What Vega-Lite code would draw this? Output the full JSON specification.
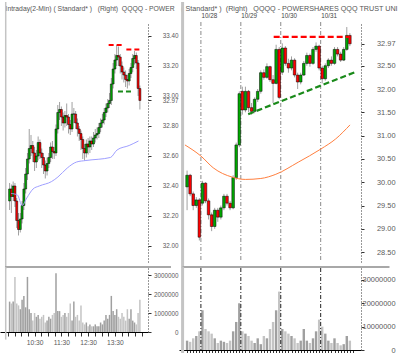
{
"$schema": "https://vega.github.io/schema/vega-lite/v6.json",
"padding": 0,
"background": "white",
"config": {
 "view": {"stroke": null},
 "font": "Liberation Sans, Arial, sans-serif",
 "axis": {"labelFont": "Liberation Sans, Arial, sans-serif", "titleFont": "Liberation Sans, Arial, sans-serif", "labelColor": "#5a5a5a", "grid": false, "domainColor": "#333333", "tickColor": "#333333", "labelOverlap": false, "titleFontWeight": "normal", "titleColor": "#555555"}
},
"datasets": {
 "left": [
{"t":4,"o":32.30,"h":32.42,"l":32.24,"c":32.38,"v":1600000},
{"t":8,"o":32.38,"h":32.41,"l":32.22,"c":32.33,"v":1500000},
{"t":12,"o":32.33,"h":32.43,"l":32.30,"c":32.40,"v":1600000},
{"t":16,"o":32.40,"h":32.42,"l":32.26,"c":32.30,"v":2900000},
{"t":20,"o":32.30,"h":32.32,"l":32.12,"c":32.17,"v":1500000},
{"t":24,"o":32.17,"h":32.22,"l":32.07,"c":32.11,"v":1400000},
{"t":28,"o":32.11,"h":32.22,"l":32.09,"c":32.18,"v":1200000},
{"t":32,"o":32.18,"h":32.30,"l":32.15,"c":32.27,"v":1700000},
{"t":36,"o":32.27,"h":32.42,"l":32.24,"c":32.38,"v":1900000},
{"t":40,"o":32.38,"h":32.52,"l":32.35,"c":32.48,"v":1300000},
{"t":44,"o":32.48,"h":32.62,"l":32.44,"c":32.58,"v":2900000},
{"t":48,"o":32.58,"h":32.78,"l":32.55,"c":32.65,"v":1200000},
{"t":52,"o":32.65,"h":32.74,"l":32.60,"c":32.67,"v":1000000},
{"t":56,"o":32.67,"h":32.70,"l":32.56,"c":32.62,"v":600000},
{"t":60,"o":32.62,"h":32.66,"l":32.50,"c":32.56,"v":1000000},
{"t":64,"o":32.56,"h":32.64,"l":32.52,"c":32.60,"v":800000},
{"t":68,"o":32.60,"h":32.73,"l":32.57,"c":32.69,"v":900000},
{"t":72,"o":32.69,"h":32.71,"l":32.58,"c":32.62,"v":700000},
{"t":76,"o":32.62,"h":32.65,"l":32.52,"c":32.59,"v":800000},
{"t":80,"o":32.59,"h":32.62,"l":32.48,"c":32.54,"v":900000},
{"t":84,"o":32.54,"h":32.57,"l":32.45,"c":32.50,"v":500000},
{"t":88,"o":32.50,"h":32.59,"l":32.47,"c":32.55,"v":600000},
{"t":92,"o":32.55,"h":32.62,"l":32.52,"c":32.59,"v":800000},
{"t":96,"o":32.59,"h":32.69,"l":32.56,"c":32.66,"v":700000},
{"t":100,"o":32.66,"h":32.70,"l":32.58,"c":32.63,"v":900000},
{"t":104,"o":32.63,"h":32.66,"l":32.58,"c":32.62,"v":1000000},
{"t":108,"o":32.62,"h":32.81,"l":32.60,"c":32.78,"v":3100000},
{"t":112,"o":32.78,"h":32.94,"l":32.75,"c":32.89,"v":1100000},
{"t":116,"o":32.89,"h":32.96,"l":32.84,"c":32.91,"v":1100000},
{"t":120,"o":32.91,"h":32.93,"l":32.80,"c":32.86,"v":800000},
{"t":124,"o":32.86,"h":32.89,"l":32.77,"c":32.82,"v":900000},
{"t":128,"o":32.82,"h":32.90,"l":32.79,"c":32.87,"v":1000000},
{"t":132,"o":32.87,"h":32.95,"l":32.80,"c":32.86,"v":800000},
{"t":136,"o":32.86,"h":32.88,"l":32.75,"c":32.81,"v":1000000},
{"t":140,"o":32.81,"h":32.84,"l":32.74,"c":32.78,"v":1500000},
{"t":144,"o":32.78,"h":32.96,"l":32.76,"c":32.88,"v":600000},
{"t":148,"o":32.88,"h":32.92,"l":32.82,"c":32.88,"v":1600000},
{"t":152,"o":32.88,"h":32.90,"l":32.78,"c":32.82,"v":800000},
{"t":156,"o":32.82,"h":32.85,"l":32.73,"c":32.78,"v":900000},
{"t":160,"o":32.78,"h":32.80,"l":32.70,"c":32.75,"v":600000},
{"t":164,"o":32.75,"h":32.77,"l":32.64,"c":32.71,"v":1400000},
{"t":168,"o":32.71,"h":32.73,"l":32.58,"c":32.65,"v":500000},
{"t":172,"o":32.65,"h":32.68,"l":32.57,"c":32.62,"v":400000},
{"t":176,"o":32.62,"h":32.71,"l":32.59,"c":32.68,"v":500000},
{"t":180,"o":32.68,"h":32.72,"l":32.61,"c":32.66,"v":300000},
{"t":184,"o":32.66,"h":32.73,"l":32.62,"c":32.70,"v":400000},
{"t":188,"o":32.70,"h":32.73,"l":32.64,"c":32.68,"v":300000},
{"t":192,"o":32.68,"h":32.76,"l":32.66,"c":32.72,"v":300000},
{"t":196,"o":32.72,"h":32.78,"l":32.69,"c":32.74,"v":400000},
{"t":200,"o":32.74,"h":32.79,"l":32.71,"c":32.75,"v":300000},
{"t":204,"o":32.75,"h":32.82,"l":32.72,"c":32.79,"v":300000},
{"t":208,"o":32.79,"h":32.85,"l":32.76,"c":32.82,"v":500000},
{"t":212,"o":32.82,"h":32.88,"l":32.79,"c":32.84,"v":400000},
{"t":216,"o":32.84,"h":32.92,"l":32.81,"c":32.89,"v":600000},
{"t":220,"o":32.89,"h":32.95,"l":32.86,"c":32.92,"v":900000},
{"t":224,"o":32.92,"h":32.98,"l":32.89,"c":32.95,"v":700000},
{"t":228,"o":32.95,"h":33.02,"l":32.92,"c":32.97,"v":900000},
{"t":232,"o":32.97,"h":33.12,"l":32.94,"c":33.08,"v":1900000},
{"t":236,"o":33.08,"h":33.22,"l":33.05,"c":33.18,"v":1100000},
{"t":240,"o":33.18,"h":33.28,"l":33.15,"c":33.24,"v":900000},
{"t":244,"o":33.24,"h":33.34,"l":33.20,"c":33.27,"v":1200000},
{"t":248,"o":33.27,"h":33.33,"l":33.20,"c":33.26,"v":800000},
{"t":252,"o":33.26,"h":33.28,"l":33.15,"c":33.20,"v":700000},
{"t":256,"o":33.20,"h":33.23,"l":33.11,"c":33.16,"v":1000000},
{"t":260,"o":33.16,"h":33.19,"l":33.09,"c":33.14,"v":800000},
{"t":264,"o":33.14,"h":33.17,"l":33.06,"c":33.11,"v":600000},
{"t":268,"o":33.11,"h":33.14,"l":33.05,"c":33.10,"v":1200000},
{"t":272,"o":33.10,"h":33.18,"l":33.07,"c":33.15,"v":700000},
{"t":276,"o":33.15,"h":33.22,"l":33.12,"c":33.19,"v":1200000},
{"t":280,"o":33.19,"h":33.28,"l":33.16,"c":33.25,"v":600000},
{"t":284,"o":33.25,"h":33.30,"l":33.21,"c":33.27,"v":500000},
{"t":288,"o":33.27,"h":33.29,"l":33.18,"c":33.22,"v":400000},
{"t":292,"o":33.22,"h":33.24,"l":33.00,"c":33.05,"v":1000000},
{"t":296,"o":33.05,"h":33.07,"l":32.91,"c":32.97,"v":1700000}
 ],
 "leftma": [
{"t":7.7,"p":32.35},{"t":21.5,"p":32.34},{"t":32,"p":32.27},{"t":42.5,"p":32.32},{"t":56.5,"p":32.38},{"t":70.5,"p":32.40},{"t":98.3,"p":32.43},{"t":112.3,"p":32.46},{"t":133.3,"p":32.52},{"t":154.2,"p":32.56},{"t":175.1,"p":32.57},{"t":230,"p":32.59},{"t":244.8,"p":32.64},{"t":272,"p":32.67},{"t":292.9,"p":32.70}
 ],
 "leftlines": [
{"a":226,"b":261.5,"p":33.34,"q":33.34,"col":"#ff0000"},
{"a":265.7,"b":301,"p":33.31,"q":33.31,"col":"#ff0000"},
{"a":246.9,"b":278,"p":33.03,"q":33.03,"col":"#1a8a1a"}
 ],
 "right": [
{"i":0,"o":29.90,"h":30.25,"l":29.40,"c":30.15,"v":4000000},
{"i":1,"o":30.15,"h":30.18,"l":29.70,"c":29.75,"v":3500000},
{"i":2,"o":29.75,"h":29.80,"l":29.40,"c":29.50,"v":5000000},
{"i":3,"o":29.50,"h":29.68,"l":29.45,"c":29.62,"v":6000000},
{"i":4,"o":29.62,"h":29.66,"l":28.75,"c":28.82,"v":8000000},
{"i":5,"o":29.55,"h":30.03,"l":29.50,"c":29.98,"v":17000000},
{"i":6,"o":29.98,"h":30.00,"l":29.55,"c":29.60,"v":9000000},
{"i":7,"o":29.60,"h":29.65,"l":29.20,"c":29.30,"v":8000000},
{"i":8,"o":29.30,"h":29.35,"l":28.95,"c":29.05,"v":7000000},
{"i":9,"o":29.05,"h":29.45,"l":29.00,"c":29.40,"v":5000000},
{"i":10,"o":29.40,"h":29.45,"l":29.15,"c":29.25,"v":3000000},
{"i":11,"o":29.25,"h":29.50,"l":29.20,"c":29.45,"v":4000000},
{"i":12,"o":29.45,"h":29.75,"l":29.40,"c":29.70,"v":3500000},
{"i":13,"o":29.70,"h":29.75,"l":29.50,"c":29.55,"v":3000000},
{"i":14,"o":29.55,"h":29.60,"l":29.40,"c":29.45,"v":4000000},
{"i":15,"o":29.45,"h":30.15,"l":29.42,"c":30.10,"v":8000000},
{"i":16,"o":30.10,"h":30.85,"l":30.05,"c":30.80,"v":12000000},
{"i":17,"o":30.80,"h":31.95,"l":30.75,"c":31.90,"v":20000000},
{"i":18,"o":31.95,"h":32.05,"l":31.45,"c":31.55,"v":8000000},
{"i":19,"o":31.55,"h":32.05,"l":31.50,"c":31.95,"v":7000000},
{"i":20,"o":31.95,"h":31.98,"l":31.50,"c":31.60,"v":6000000},
{"i":21,"o":31.60,"h":31.70,"l":31.45,"c":31.52,"v":4000000},
{"i":22,"o":31.52,"h":31.82,"l":31.48,"c":31.78,"v":3000000},
{"i":23,"o":31.78,"h":32.00,"l":31.72,"c":31.95,"v":5000000},
{"i":24,"o":31.95,"h":32.40,"l":31.90,"c":32.35,"v":2500000},
{"i":25,"o":32.35,"h":32.42,"l":32.20,"c":32.25,"v":6000000},
{"i":26,"o":32.25,"h":32.55,"l":32.22,"c":32.48,"v":5000000},
{"i":27,"o":32.48,"h":32.50,"l":32.15,"c":32.20,"v":9000000},
{"i":28,"o":32.20,"h":32.30,"l":31.70,"c":32.12,"v":12000000},
{"i":29,"o":32.12,"h":32.95,"l":32.10,"c":32.85,"v":17000000},
{"i":30,"o":32.85,"h":32.90,"l":31.78,"c":31.82,"v":25000000},
{"i":31,"o":32.36,"h":32.98,"l":32.30,"c":32.88,"v":9000000},
{"i":32,"o":32.88,"h":32.92,"l":32.50,"c":32.55,"v":8000000},
{"i":33,"o":32.55,"h":32.65,"l":32.35,"c":32.45,"v":7000000},
{"i":34,"o":32.45,"h":32.70,"l":32.40,"c":32.62,"v":6000000},
{"i":35,"o":32.62,"h":32.66,"l":32.25,"c":32.30,"v":5000000},
{"i":36,"o":32.30,"h":32.35,"l":32.00,"c":32.15,"v":3000000},
{"i":37,"o":32.15,"h":32.35,"l":32.10,"c":32.30,"v":4000000},
{"i":38,"o":32.30,"h":32.60,"l":32.28,"c":32.55,"v":9000000},
{"i":39,"o":32.55,"h":32.78,"l":32.50,"c":32.72,"v":4000000},
{"i":40,"o":32.72,"h":32.76,"l":32.48,"c":32.55,"v":3000000},
{"i":41,"o":32.55,"h":32.90,"l":32.52,"c":32.85,"v":5000000},
{"i":42,"o":32.85,"h":33.00,"l":32.80,"c":32.92,"v":8000000},
{"i":43,"o":32.92,"h":32.95,"l":32.40,"c":32.45,"v":13000000},
{"i":44,"o":32.45,"h":32.50,"l":32.12,"c":32.22,"v":10000000},
{"i":45,"o":32.22,"h":32.55,"l":32.18,"c":32.50,"v":7000000},
{"i":46,"o":32.50,"h":32.66,"l":32.45,"c":32.62,"v":4000000},
{"i":47,"o":32.62,"h":32.70,"l":32.50,"c":32.55,"v":3000000},
{"i":48,"o":32.55,"h":32.90,"l":32.52,"c":32.85,"v":5000000},
{"i":49,"o":32.85,"h":32.90,"l":32.70,"c":32.75,"v":3000000},
{"i":50,"o":32.75,"h":32.80,"l":32.58,"c":32.62,"v":2000000},
{"i":51,"o":32.62,"h":32.90,"l":32.60,"c":32.85,"v":2500000},
{"i":52,"o":32.85,"h":33.33,"l":32.82,"c":33.15,"v":6000000},
{"i":53,"o":33.15,"h":33.20,"l":32.92,"c":32.97,"v":4000000}
 ],
 "rightma": [
{"i":-0.69,"p":30.80},{"i":4.53,"p":30.56},{"i":8.5,"p":30.31},{"i":14.66,"p":30.11},{"i":18.96,"p":30.06},{"i":24,"p":30.08},{"i":28.9,"p":30.17},{"i":36.2,"p":30.43},{"i":43.5,"p":30.71},{"i":48.4,"p":30.93},{"i":53.05,"p":31.23}
 ],
 "rightlines": [
{"a":19.9,"b":54.6,"p":31.46,"q":32.36,"col":"#1a8a1a"},
{"a":28.2,"b":52.7,"p":33.12,"q":33.12,"col":"#ff0000"}
 ],
 "days": [{"i":4.5},{"i":17.5},{"i":30.5},{"i":43.5}]
},
"spacing": 1,
"hconcat": [
 {
  "bounds": "flush",
  "spacing": 6,
  "vconcat": [
   {
    "width": 148, "height": 240,
    "layer": [
     {"data": {"values": [{}]}, "mark": {"type": "rule", "color": "#c4c4c4", "strokeWidth": 1.5},
      "encoding": {
       "x": {"datum": -4.7, "type": "quantitative", "scale": {"domain": [-6.3, 303], "nice": false, "zero": false},
             "axis": {"orient": "top", "labels": false, "ticks": false, "domain": false, "tickCount": 100, "title": "Intraday(2-Min) ( Standard* )\u00a0\u00a0\u00a0(Right)\u00a0\u00a0QQQQ - POWER", "titleX": 5, "titleY": -12, "titleAlign": "left", "titleAnchor": "start", "titleBaseline": "alphabetic", "titleFontSize": 6.8, "titleAngle": 0}},
       "y": {"datum": 33.627, "type": "quantitative", "scale": {"domain": [31.8933, 33.4933], "nice": false, "zero": false},
             "axis": {"orient": "right", "title": null, "values": [32.0, 32.2, 32.4, 32.6, 32.8, 33.0, 33.2, 33.4, 32.97], "tickCount": 100, "format": ".2f", "labelOverlap": false, "labelAlign": "right", "labelPadding": 27, "tickSize": 3, "domainDash": [1, 2], "labelBaseline": "middle", "labelFontSize": 6.3}},
       "y2": {"datum": 31.85}
      }},
     {"data": {"name": "left"}, "mark": {"type": "rule", "color": "#a0a0a0", "strokeWidth": 1},
      "encoding": {
       "x": {"field": "t", "type": "quantitative"},
       "y": {"field": "l", "type": "quantitative"},
       "y2": {"field": "h"}
      }},
     {"data": {"name": "left"}, "mark": {"type": "bar", "size": 2, "stroke": "#000000", "strokeWidth": 0.5},
      "encoding": {
       "x": {"field": "t", "type": "quantitative"},
       "y": {"field": "o", "type": "quantitative"},
       "y2": {"field": "c"},
       "color": {"condition": {"test": "datum.c >= datum.o", "value": "#00a800"}, "value": "#ff0000"}
      }},
     {"data": {"name": "leftma"}, "mark": {"type": "line", "color": "#9f9fff", "strokeWidth": 1, "interpolate": "monotone"},
      "encoding": {"x": {"field": "t", "type": "quantitative"}, "y": {"field": "p", "type": "quantitative"}}},
     {"data": {"name": "leftlines"}, "mark": {"type": "rule", "strokeWidth": 2, "strokeDash": [5, 3]},
      "encoding": {"x": {"field": "a", "type": "quantitative"}, "x2": {"field": "b"}, "y": {"field": "p", "type": "quantitative"}, "y2": {"field": "q"}, "color": {"field": "col", "type": "nominal", "scale": null}}}
    ]
   },
   {
    "width": 148, "height": 64,
    "layer": [
     {"data": {"name": "left"}, "mark": {"type": "bar", "size": 1.5},
      "encoding": {
       "x": {"field": "t", "type": "quantitative", "scale": {"domain": [-6.3, 303], "nice": false, "zero": false},
             "axis": {"orient": "bottom", "title": null, "values": [0,15,30,45,60,75,90,105,120,135,150,165,180,195,210,225,240,255,270,285,300], "tickCount": 100, "labelExpr": "datum.value % 60 == 0 && datum.value > 0 && datum.value < 300 ? (9 + datum.value / 60) + ':30' : ''", "tickSize": 4, "labelPadding": 3, "domainColor": "#000000", "labelFlush": false, "labelOverlap": false, "labelFontSize": 6.7}},
       "y": {"field": "v", "type": "quantitative", "scale": {"domain": [0, 3370000], "nice": false},
             "axis": {"orient": "right", "title": null, "values": [0, 1000000, 2000000, 3000000], "tickCount": 100, "format": "d", "labelAlign": "right", "labelPadding": 27, "tickSize": 3, "domainDash": [1, 2], "labelBaseline": "middle", "labelOverlap": false, "labelFontSize": 6.3}},
       "color": {"condition": {"test": "datum.c >= datum.o", "value": "#a0a0a0"}, "value": "#c4c4c4"}
      }},
     {"data": {"values": [{}]}, "mark": {"type": "rule", "color": "#a8a8a8", "strokeWidth": 2},
      "encoding": {"x": {"datum": -6.3}, "x2": {"datum": 365.7}, "y": {"datum": 3420000}}},
     {"data": {"values": [{}]}, "mark": {"type": "rule", "color": "#c4c4c4", "strokeWidth": 1.5},
      "encoding": {"x": {"datum": -4.7}, "y": {"datum": 3420000}, "y2": {"datum": -400000}}}
    ]
   }
  ]
 },
 {
  "bounds": "flush",
  "spacing": 6,
  "vconcat": [
   {
    "width": 182, "height": 240,
    "layer": [
     {"data": {"name": "days"}, "mark": {"type": "rule", "color": "#8a8a8a", "strokeWidth": 1, "strokeDash": [4, 2, 1, 2]},
      "encoding": {
       "x": {"field": "i", "type": "quantitative", "scale": {"domain": [-1, 55], "nice": false, "zero": false},
             "axis": {"orient": "top", "values": [4.5, 17.5, 30.5, 43.5], "tickCount": 100, "labelExpr": "datum.value < 10 ? '10/28' : datum.value < 20 ? '10/29' : datum.value < 35 ? '10/30' : '10/31'", "labelAlign": "left", "tickSize": 0, "ticks": false, "domain": false, "labelPadding": 4, "labelColor": "#444444", "labelFlush": false, "labelFontSize": 6.3,
                      "title": "( Standard* )\u00a0\u00a0(Right)\u00a0\u00a0\u00a0QQQQ - POWERSHARES QQQ TRUST UNI", "titleX": 1.5, "titleY": -12, "titleAlign": "left", "titleAnchor": "start", "titleBaseline": "alphabetic", "titleFontSize": 7.2, "titleAngle": 0}}
      }},
     {"data": {"name": "right"}, "mark": {"type": "rule", "color": "#a0a0a0", "strokeWidth": 1},
      "encoding": {
       "x": {"field": "i", "type": "quantitative"},
       "y": {"field": "l", "type": "quantitative", "scale": {"domain": [28.288, 33.438], "nice": false, "zero": false},
             "axis": {"orient": "right", "title": null, "values": [28.5, 29.0, 29.5, 30.0, 30.5, 31.0, 31.5, 32.0, 32.5, 32.97], "tickCount": 100, "format": ".2f", "labelOverlap": false, "labelAlign": "right", "labelPadding": 31, "tickSize": 3, "domainDash": [1, 2], "labelBaseline": "middle", "labelFontSize": 7.4}},
       "y2": {"field": "h"}
      }},
     {"data": {"name": "right"}, "mark": {"type": "bar", "size": 2.6, "stroke": "#000000", "strokeWidth": 0.5},
      "encoding": {
       "x": {"field": "i", "type": "quantitative"},
       "y": {"field": "o", "type": "quantitative"},
       "y2": {"field": "c"},
       "color": {"condition": {"test": "datum.c >= datum.o", "value": "#00a800"}, "value": "#ff0000"}
      }},
     {"data": {"name": "rightma"}, "mark": {"type": "line", "color": "#ff7f3f", "strokeWidth": 1, "interpolate": "monotone"},
      "encoding": {"x": {"field": "i", "type": "quantitative"}, "y": {"field": "p", "type": "quantitative"}}},
     {"data": {"name": "rightlines"}, "mark": {"type": "rule", "strokeWidth": 2.2, "strokeDash": [6, 3]},
      "encoding": {"x": {"field": "a", "type": "quantitative"}, "x2": {"field": "b"}, "y": {"field": "p", "type": "quantitative"}, "y2": {"field": "q"}, "color": {"field": "col", "type": "nominal", "scale": null}}},
     {"data": {"values": [{}]}, "mark": {"type": "rule", "color": "#c4c4c4", "strokeWidth": 3},
      "encoding": {"x": {"datum": -1.46}, "y": {"datum": 33.867}, "y2": {"datum": 28.159}}}
    ]
   },
   {
    "width": 182, "height": 82,
    "layer": [
     {"data": {"name": "right"}, "mark": {"type": "bar", "size": 2.4},
      "encoding": {
       "x": {"field": "i", "type": "quantitative", "scale": {"domain": [-1, 55], "nice": false, "zero": false},
             "axis": {"orient": "bottom", "title": null, "values": [0,1,2,3,4,5,6,7,8,9,10,11,12,13,14,15,16,17,18,19,20,21,22,23,24,25,26,27,28,29,30,31,32,33,34,35,36,37,38,39,40,41,42,43,44,45,46,47,48,49,50,51,52,53,54], "tickCount": 100, "labels": false, "tickSize": 4, "domainColor": "#000000"}},
       "y": {"field": "v", "type": "quantitative", "scale": {"domain": [0, 35100000], "nice": false},
             "axis": {"orient": "right", "title": null, "values": [0, 10000000, 20000000, 30000000], "tickCount": 100, "format": "d", "labelAlign": "right", "labelPadding": 31, "tickSize": 3, "domainDash": [1, 2], "labelBaseline": "middle", "labelOverlap": false, "labelFontSize": 7.4}},
       "color": {"condition": {"test": "datum.c >= datum.o", "value": "#a0a0a0"}, "value": "#c4c4c4"}
      }},
     {"data": {"name": "days"}, "mark": {"type": "rule", "color": "#222222", "strokeWidth": 1, "strokeDash": [4, 2, 1, 2]},
      "encoding": {"x": {"field": "i", "type": "quantitative"}}},
     {"data": {"values": [{}]}, "mark": {"type": "rule", "color": "#a8a8a8", "strokeWidth": 2},
      "encoding": {"x": {"datum": -1.46}, "x2": {"datum": 65.9}, "y": {"datum": 35500000}}},
     {"data": {"values": [{}]}, "mark": {"type": "rule", "color": "#c4c4c4", "strokeWidth": 3},
      "encoding": {"x": {"datum": -1.46}, "y": {"datum": 35500000}, "y2": {"datum": -2500000}}}
    ]
   }
  ]
 }
]
}
